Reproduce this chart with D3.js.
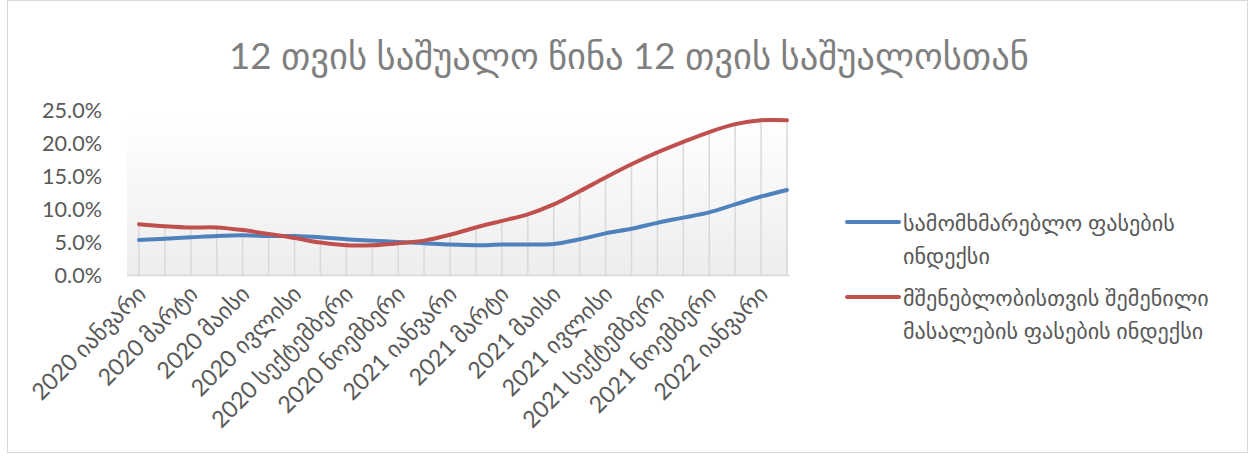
<!DOCTYPE html>
<html>
<head>
<meta charset="utf-8">
<script src="https://cdn.jsdelivr.net/npm/d3@7"></script>
<style>
  html, body { margin: 0; padding: 0; background: #fff; }
  svg { display: block; }
</style>
</head>
<body>
<svg id="chart" width="1250" height="457"></svg>
<script>
const title = "12 თვის საშუალო წინა 12 თვის საშუალოსთან";
const categories = [
  "2020 იანვარი","2020 თებერვალი","2020 მარტი","2020 აპრილი","2020 მაისი","2020 ივნისი",
  "2020 ივლისი","2020 აგვისტო","2020 სექტემბერი","2020 ოქტომბერი","2020 ნოემბერი","2020 დეკემბერი",
  "2021 იანვარი","2021 თებერვალი","2021 მარტი","2021 აპრილი","2021 მაისი","2021 ივნისი",
  "2021 ივლისი","2021 აგვისტო","2021 სექტემბერი","2021 ოქტომბერი","2021 ნოემბერი","2021 დეკემბერი",
  "2022 იანვარი","2022 თებერვალი"
];
const seriesNames = [
  ["სამომხმარებლო ფასების", "ინდექსი"],
  ["მშენებლობისთვის შემენილი", "მასალების ფასების ინდექსი"]
];
const cpi = [5.4,5.6,5.8,6.0,6.1,6.0,6.0,5.8,5.5,5.3,5.1,4.9,4.7,4.6,4.7,4.7,4.8,5.5,6.4,7.1,8.0,8.8,9.6,10.8,12.0,13.0];
const construction = [7.8,7.5,7.3,7.3,6.9,6.3,5.7,5.0,4.6,4.6,4.9,5.3,6.2,7.3,8.3,9.3,10.8,12.8,14.9,16.9,18.7,20.3,21.8,23.0,23.6,23.6];
const yTicks = [0, 5, 10, 15, 20, 25];
const colors = ["#4f81bd", "#c0504d"];

const FONT = "Lato, 'DejaVu Sans', sans-serif";
const svg = d3.select("#chart");

// fit helper: scale font size so that a text node reaches a target width
function fit(sel, base, target) {
  sel.attr("font-size", base);
  const w = sel.node().getComputedTextLength();
  const fs = base * target / w;
  return fs;
}

// chart frame
svg.append("rect").attr("x", 7.5).attr("y", 0.5).attr("width", 1240).attr("height", 452)
  .attr("fill", "#fff").attr("stroke", "#d9d9d9").attr("stroke-width", 1);

const x = d3.scalePoint().domain(d3.range(categories.length)).range([139, 787]);
const y = d3.scaleLinear().domain([0, 25]).range([275.5, 111]);

// gradient plot background
const defs = svg.append("defs");
const grad = defs.append("linearGradient").attr("id", "pa").attr("x1", 0).attr("y1", 0).attr("x2", 0).attr("y2", 1);
grad.append("stop").attr("offset", "0%").attr("stop-color", "#ffffff");
grad.append("stop").attr("offset", "100%").attr("stop-color", "#ededed");
svg.append("rect").attr("x", 127).attr("y", y(25) + 6).attr("width", 661).attr("height", y(0) - y(25) - 6)
  .attr("fill", "url(#pa)");

// title
const t = svg.append("text").attr("x", 629).attr("y", 55).attr("text-anchor", "middle")
  .attr("dominant-baseline", "central")
  .attr("font-family", FONT).attr("fill", "#7f7f7f").text(title);
t.attr("font-size", fit(t, 32, 800));

// drop lines
svg.append("g").selectAll("line").data(d3.range(categories.length)).join("line")
  .attr("x1", i => x(i)).attr("x2", i => x(i))
  .attr("y1", i => y(Math.max(cpi[i], construction[i])))
  .attr("y2", y(0))
  .attr("stroke", "#d9d9d9").attr("stroke-width", 1.5);

// x axis
const xAxis = d3.axisBottom(x).tickSize(0).tickFormat(i => i % 2 === 0 ? categories[i] : "");
const gx = svg.append("g").attr("transform", `translate(0,${y(0)})`).call(xAxis);
gx.select(".domain").attr("stroke", "#d9d9d9").attr("stroke-width", 1.5)
  .attr("d", `M127,0H790`);
const xl = gx.selectAll("text")
  .attr("font-family", FONT).attr("fill", "#595959")
  .attr("text-anchor", "end")
  .attr("dy", null).attr("y", 0)
  .attr("transform", "translate(8,20) rotate(-45)");
const xfs = fit(gx.selectAll("text").filter((d, i) => d === 0), 17, 150);
xl.attr("font-size", xfs);

// y axis
const yAxis = d3.axisLeft(y).tickValues(yTicks).tickSize(0).tickFormat(d => d.toFixed(1) + "%");
const gy = svg.append("g").attr("transform", "translate(102,0)").call(yAxis);
gy.select(".domain").remove();
const yl = gy.selectAll("text").attr("font-family", FONT).attr("fill", "#595959").attr("x", 0);
const yfs = fit(gy.selectAll("text").filter(d => d === 25), 18, 60);
yl.attr("font-size", yfs);

// lines
const line = d3.line().x((d, i) => x(i)).y(d => y(d)).curve(d3.curveCatmullRom.alpha(0.5));
[cpi, construction].forEach((s, k) => {
  svg.append("path").datum(s).attr("d", line).attr("fill", "none")
    .attr("stroke", colors[k]).attr("stroke-width", 4).attr("stroke-linecap", "round");
});

// legend
const legY = [222, 297];
const legTexts = [];
seriesNames.forEach((lines, k) => {
  svg.append("line").attr("x1", 847).attr("x2", 899).attr("y1", legY[k]).attr("y2", legY[k])
    .attr("stroke", colors[k]).attr("stroke-width", 4).attr("stroke-linecap", "round");
  lines.forEach((txt, j) => {
    legTexts.push(svg.append("text").attr("x", 903).attr("y", legY[k] + j * 33)
      .attr("dominant-baseline", "central")
      .attr("font-family", FONT).attr("fill", "#595959").text(txt));
  });
});
const lfs = fit(legTexts[0], 17, 272);
legTexts.forEach(s => s.attr("font-size", lfs));
</script>
</body>
</html>
